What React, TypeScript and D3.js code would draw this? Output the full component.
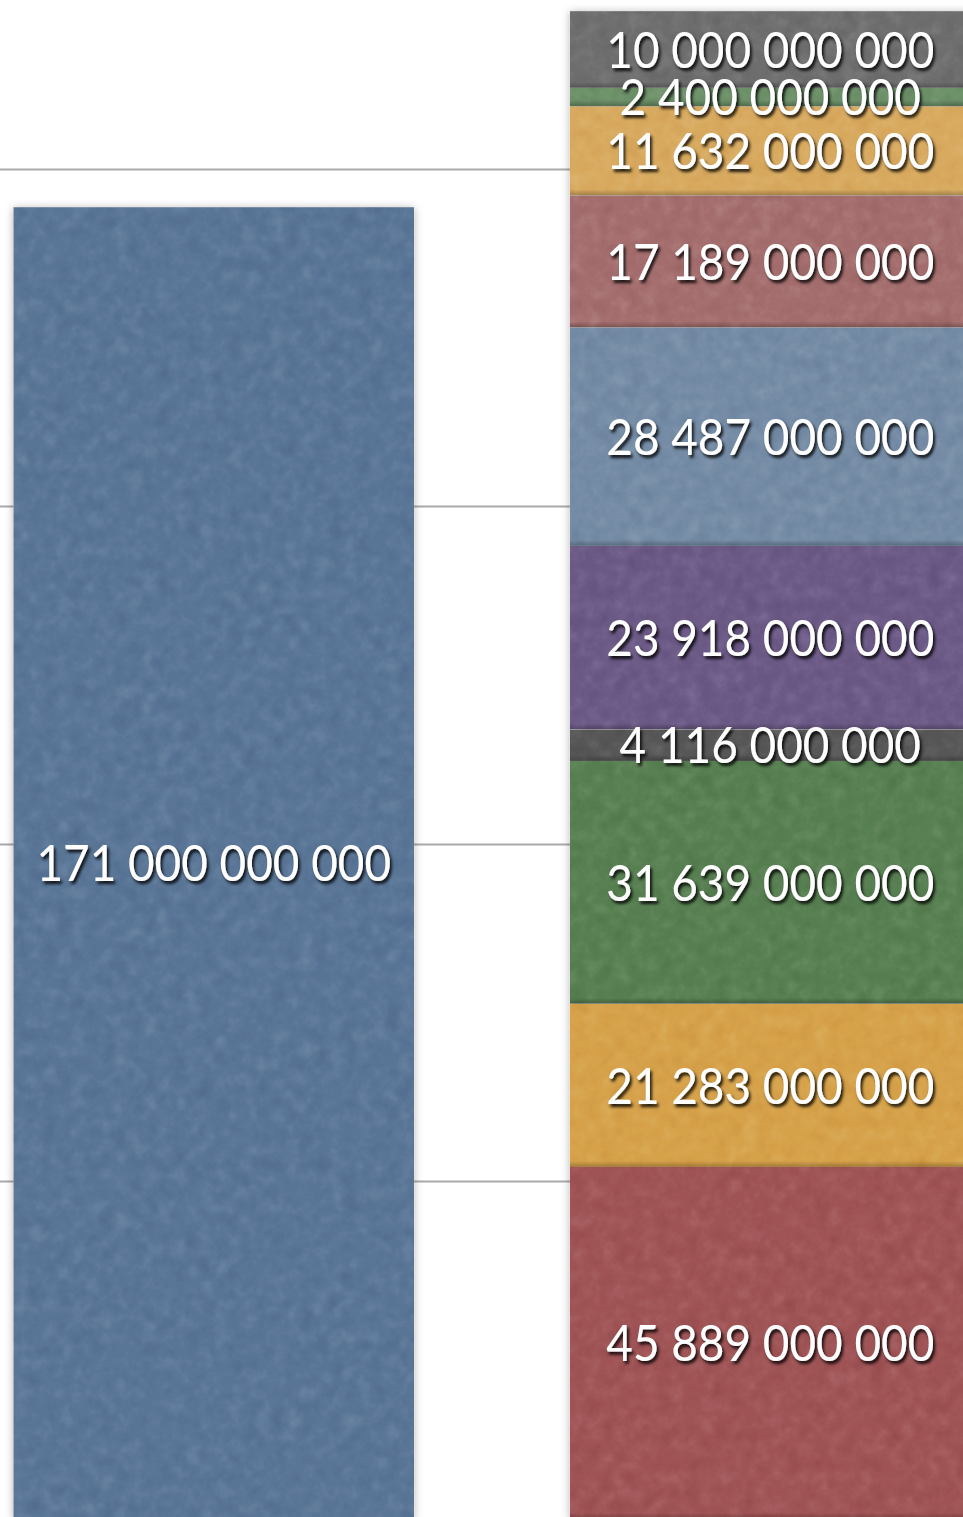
import React from "react";
import * as d3 from "d3";

// ---- data ----
const categories = ["Total", "Breakdown"];
const totalValues = [171000000000];
const segmentValues = [
  45889000000, 21283000000, 31639000000, 4116000000, 23918000000,
  28487000000, 17189000000, 11632000000, 2400000000, 10000000000,
];
const segmentColors = [
  "#a05456", "#d6a24a", "#588052", "#585858", "#6c5a87",
  "#758ca6", "#a56e6e", "#d8aa5f", "#6c9068", "#6f6f6f",
];
const totalColor = "#5a7697";
const gridTicks = [44e9, 88e9, 132e9, 176e9];

const W = 963;
const H = 1517;

const locale = d3.formatLocale({
  decimal: ",",
  thousands: " ",
  grouping: [3],
  currency: ["", ""],
});
const fmt = locale.format(",d");

export default function App() {
  const x = d3
    .scaleBand<string>()
    .domain(categories)
    .range([0, 984])
    .paddingInner(0.28)
    .paddingOuter(0.024);
  const y = d3.scaleLinear().domain([0, 198e9]).range([1519, 0]);

  const stackInput = [
    Object.fromEntries(segmentValues.map((v, i) => ["s" + i, v])),
  ];
  const keys = segmentValues.map((_, i) => "s" + i);
  const stacked = d3.stack<any>().keys(keys)(stackInput);

  const fs = 51;
  const sx = 0.9;
  const capOff = 0.358 * fs;
  const bw = x.bandwidth();
  const x0 = x(categories[0])!;
  const x1 = x(categories[1])!;

  const label = (key: string, cx: number, cy: number, v: number) => (
    <text key={key} transform={`translate(${cx},${cy + capOff}) scale(${sx},1)`}>
      {fmt(v)}
    </text>
  );

  return (
    <svg
      width={W}
      height={H}
      style={{ position: "absolute", left: 0, top: 0, background: "#fff" }}
    >
      <defs>
        <filter id="tex" x="0" y="0" width="100%" height="100%">
          <feTurbulence
            type="fractalNoise"
            baseFrequency="0.07"
            numOctaves={5}
            seed={7}
            result="n"
          />
          <feColorMatrix
            in="n"
            type="matrix"
            values="0.33 0.33 0.33 0 0  0.33 0.33 0.33 0 0  0.33 0.33 0.33 0 0  0 0 0 0 1"
            result="g"
          />
          <feComponentTransfer in="g" result="g2">
            <feFuncR type="linear" slope="0.4" intercept="0.3" />
            <feFuncG type="linear" slope="0.4" intercept="0.3" />
            <feFuncB type="linear" slope="0.4" intercept="0.3" />
          </feComponentTransfer>
          <feBlend in="g2" in2="SourceGraphic" mode="soft-light" result="b" />
          <feComposite in="b" in2="SourceGraphic" operator="in" />
        </filter>
        <filter id="barShadow" x="-5%" y="-5%" width="110%" height="110%">
          <feDropShadow dx="0" dy="1" stdDeviation="4" floodColor="#000" floodOpacity="0.3" />
        </filter>
        <filter id="txtShadow" x="-10%" y="-30%" width="120%" height="160%">
          <feDropShadow dx="2" dy="3" stdDeviation="1.7" floodColor="#000" floodOpacity="0.85" />
        </filter>
        <linearGradient id="edge" x1="0" y1="0" x2="0" y2="1">
          <stop offset="0" stopColor="#000" stopOpacity="0" />
          <stop offset="1" stopColor="#000" stopOpacity="0.25" />
        </linearGradient>
      </defs>

      {/* gridlines */}
      <g>
        {gridTicks.map((t) => (
          <line
            key={t}
            x1={0}
            x2={W}
            y1={Math.round(y(t)) + 0.5}
            y2={Math.round(y(t)) + 0.5}
            stroke="#a9a9a9"
            strokeWidth={2}
          />
        ))}
      </g>

      {/* left total bar */}
      <g filter="url(#barShadow)">
        {totalValues.map((v, i) => (
          <rect
            key={i}
            x={x0}
            y={y(v)}
            width={bw}
            height={y(0) - y(v)}
            fill={totalColor}
            filter="url(#tex)"
          />
        ))}
      </g>

      {/* right stacked bar */}
      <g filter="url(#barShadow)">
        {stacked.map((s, i) => {
          const d = s[0];
          const top = y(d[1]);
          const bot = y(d[0]);
          return (
            <g key={i}>
              <rect
                x={x1}
                y={top}
                width={bw}
                height={bot - top}
                fill={segmentColors[i]}
                filter="url(#tex)"
              />
              <rect x={x1} y={bot - 6} width={bw} height={6} fill="url(#edge)" />
            </g>
          );
        })}
      </g>

      {/* labels */}
      <g
        fill="#fff"
        fontFamily="Lato, 'Open Sans', sans-serif"
        fontSize={fs}
        textAnchor="middle"
        filter="url(#txtShadow)"
      >
        {totalValues.map((v, i) =>
          label("t" + i, x0 + bw / 2, (y(v) + y(0)) / 2, v)
        )}
        {stacked.map((s, i) => {
          const d = s[0];
          const cy = (y(d[0]) + y(d[1])) / 2;
          return label("s" + i, x1 + bw / 2, cy, segmentValues[i]);
        })}
      </g>
    </svg>
  );
}
